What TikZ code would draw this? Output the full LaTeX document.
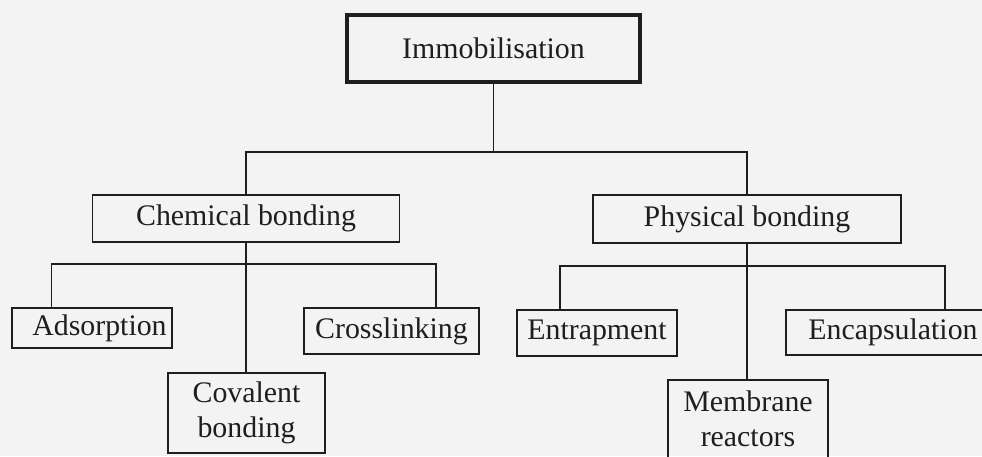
\documentclass[tikz,border=0pt]{standalone}
\usepackage{fontspec}
\setmainfont{Liberation Serif}
\usetikzlibrary{calc}
\definecolor{ink}{RGB}{30,30,30}
\definecolor{paper}{RGB}{243,243,243}
\tikzset{
  box/.style={draw=ink,line width=1.1pt,inner sep=0pt,align=center,text=ink,
    font=\fontsize{17}{20}\selectfont},
  rootbox/.style={box,line width=2.4pt},
  link/.style={ink,line width=1pt}
}
\begin{document}
\begin{tikzpicture}[x=0.02cm,y=-0.02cm]
  \fill[paper] (0,0) rectangle (982,456);
  \useasboundingbox (0,0) rectangle (982,456);
  % root
  \node[rootbox,minimum width=5.86cm,minimum height=1.34cm] (imm) at (493.5,48.5) {Immobilisation};
  % two kinds of bonding
  \node[box,minimum width=6.14cm,minimum height=0.94cm] (chem) at (246,218.5) {Chemical bonding};
  \node[box,minimum width=6.16cm,minimum height=0.96cm] (phys) at (747,219) {Physical bonding};
  % chemical methods
  \node[box,minimum width=3.2cm,minimum height=0.8cm] (ads) at (92,328) {\hspace{0.5em}Adsorption};
  \node[box,minimum width=3.14cm,minimum height=1.6cm] (cov) at (246.5,413) {Covalent\\bonding};
  \node[box,minimum width=3.5cm,minimum height=0.92cm] (cross) at (391.5,331) {Crosslinking};
  % physical methods
  \node[box,minimum width=3.2cm,minimum height=0.92cm] (ent) at (597,333) {Entrapment};
  \node[box,minimum width=3.2cm,minimum height=1.56cm] (mem) at (748,419) {Membrane\\reactors};
  \node[box,minimum width=4.18cm,minimum height=0.9cm] (enc) at (890,332.5) {\hspace{0.2em}Encapsulation};
  % connectors
  \coordinate (split) at ($(imm.south)+(0,68)$);
  \draw[link] (imm.south) -- (split);
  \draw[link] (chem.north) |- (split) -| (phys.north);
  \draw[link] (chem.south) -- (chem.south |- cov.north);
  \draw[link] ($(ads.north west)!0.25!(ads.north east)$) |- ($(chem.south)+(0,21)$)
    -| ($(cross.north west)!0.75!(cross.north east)$);
  \draw[link] (phys.south) -- (phys.south |- mem.north);
  \draw[link] ($(ent.north west)!0.27!(ent.north east)$) |- ($(phys.south)+(0,22)$)
    -| ($(enc.north west)!0.76!(enc.north east)$);
\end{tikzpicture}
\end{document}
